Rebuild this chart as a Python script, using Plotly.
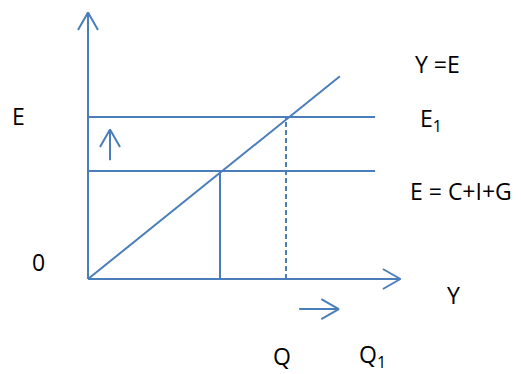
import plotly.graph_objects as go

# Diagram values (arbitrary income / expenditure units)
q_levels = [6, 9]            # Q, Q1
e_levels = [6, 9]            # E = C+I+G, E1
y_axis_top = 14.8
x_axis_end = 14.2
agg_line_end = 11.45         # end of the Y = E line
exp_line_end = 13.05         # end of the expenditure lines
shift_up = [6.6, 8.3]        # small upward arrow (y from, y to) at x = 1
shift_right = [9.6, 11.4]    # small right arrow (x from, x to) at y = -1.67

labels = ["E", "0", "Y =E", "E<sub>1</sub>", "E = C+I+G", "Y", "Q", "Q<sub>1</sub>"]
label_x = [-3.18, -2.27, 15.9, 15.6, 16.95, 16.6, 8.82, 12.95]
label_y = [9.05, 0.95, 11.95, 8.86, 4.88, -0.9, -4.25, -4.25]

BLUE = "#4A7EBB"
KX, KY = 22.0, 18.0          # pixels per unit

fig = go.Figure()


def seg(xs, ys, dash="solid"):
    fig.add_trace(go.Scatter(x=xs, y=ys, mode="lines", hoverinfo="skip",
                             line=dict(color=BLUE, width=2, dash=dash)))


def head(x, y, ux, uy, back=17.5, half=10):
    # open V arrow head at (x, y) pointing along (ux, uy)
    px, py = -uy, ux
    xs = [x + (-back * ux + half * px) / KX, x, x + (-back * ux - half * px) / KX]
    ys = [y + (-back * uy + half * py) / KY, y, y + (-back * uy - half * py) / KY]
    seg(xs, ys)


# axes
seg([0, 0], [0, y_axis_top])
head(0, y_axis_top, 0, 1)
seg([0, x_axis_end], [0, 0])
head(x_axis_end, 0, 1, 0)

# Y = E line and expenditure lines
seg([0, agg_line_end], [0, agg_line_end * 202 / 251 * KX / KY])
for e in e_levels:
    seg([0, exp_line_end], [e, e])

# drop lines to income axis
seg([q_levels[0], q_levels[0]], [0, e_levels[0]])
seg([q_levels[1], q_levels[1]], [0, e_levels[1]], dash="5px,3px")

# shift arrows
seg([1, 1], shift_up)
head(1, shift_up[1], 0, 1)
seg(shift_right, [-1.67, -1.67])
head(shift_right[1], -1.67, 1, 0)

for t, x, y in zip(labels, label_x, label_y):
    fig.add_annotation(x=x, y=y, text=t, showarrow=False,
                       font=dict(family="Open Sans", size=23, color="#000000"))

fig.update_layout(
    width=521, height=374, margin=dict(l=0, r=0, t=0, b=0),
    plot_bgcolor="white", paper_bgcolor="white", showlegend=False,
    xaxis=dict(range=[-88 / KX, (521 - 88) / KX], visible=False, fixedrange=True),
    yaxis=dict(range=[-(374 - 279) / KY, 279 / KY], visible=False, fixedrange=True),
)

fig.write_html("out.html", config={"displayModeBar": False},
               post_script="document.body.style.margin='0';")
